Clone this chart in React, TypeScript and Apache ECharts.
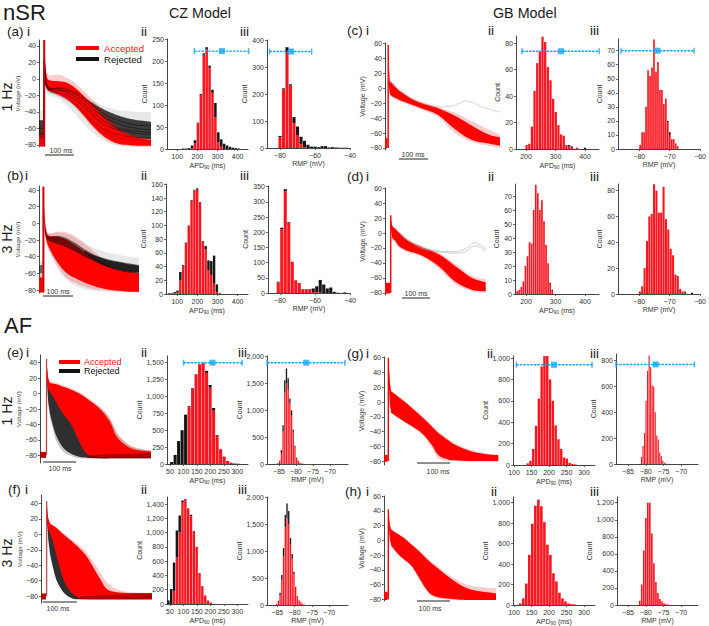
import React, { useEffect, useRef } from "react";
import * as echarts from "echarts";

// ---------- histogram values (count per bin) ----------
const a2Accepted = [0,0,0,1,13,58,123,215,228,185,128,72,15,5,0,0,0,0,0,0];
const a2Total = [1,1,2,8,20,60,125,218,232,190,135,105,38,22,12,8,5,3,2,1];
const a3Accepted = [40,218,355,232,92,48,15,3,0,0,0,0,0,0,0,0,0,0,0,0];
const a3Total = [45,222,375,237,115,80,42,27,12,5,5,3,7,7,2,3,2,1,1,1];
const b2Accepted = [0,0,1,2,20,40,74,100,136,151,152,133,76,65,35,28,15,3,0];
const b2Total = [1,1,3,5,32,42,75,100,137,152,154,134,77,70,49,48,56,14,1];
const b3Accepted = [35,210,335,230,103,42,33,12,12,11,3,2,1,0,0,0,0,0,0,0,0];
const b3Total = [37,215,342,233,103,42,33,13,13,13,15,22,43,28,15,18,4,1,0,2,0];
const c2Accepted = [3,4,17,44,65,74,85,81,62,52,38,28,18,11,10,3,2,1,0,1,0,0,0];
const c2Total = [3,4,17,44,65,74,85,81,62,52,38,28,18,11,10,3,3,2,0,1,0,0,1];
const c3Accepted = [3,12,12,30,56,52,58,78,55,62,42,42,32,36,19,10,7,7,4,2];
const c3Total = [3,12,12,30,56,52,58,78,55,62,42,42,32,36,20,12,7,7,4,2];
const d2Accepted = [2,3,5,9,20,27,37,36,60,78,72,60,67,52,35,22,7,2];
const d2Total = [2,3,5,9,20,27,37,36,60,78,72,60,67,52,35,22,8,3];
const d3Accepted = [2,6,20,41,60,62,85,80,63,63,83,58,50,35,30,15,14,4,2,2,0,0,0];
const d3Total = [2,6,20,41,60,62,85,80,63,63,83,58,50,35,30,15,14,4,2,2,0,0,1];
const e2Accepted = [0,0,0,0,0,840,1110,1325,1475,1490,1350,1130,790,420,215,110,45,20,10,5];
const e2Total = [30,135,340,500,730,855,1120,1330,1480,1500,1380,1170,830,430,220,110,45,20,10,5];
const e3Accepted = [15,50,200,600,1330,1500,1400,1130,900,600,320,115,58,25,10,5];
const e3Total = [20,60,260,720,1560,1780,1600,1220,1000,640,340,120,60,25,10,5];
const f2Accepted = [0,0,180,650,1000,1420,1470,1340,1230,1010,800,420,250,120,50,20];
const f2Total = [50,210,580,1030,1240,1450,1470,1340,1250,1020,800,430,250,120,50,20];
const f3Accepted = [15,60,180,470,900,1450,1620,1500,1130,860,580,320,165,90,50,20,8];
const f3Total = [20,80,230,560,1060,1680,1890,1750,1250,950,620,340,170,90,50,20,8];
const g2Values = [15,40,150,365,620,920,1020,1020,800,600,370,240,150,70,60,20,10,5];
const g3Values = [55,140,240,490,720,840,750,610,600,400,220,190,90,60,25,10,3];
const h2Values = [15,65,210,490,795,970,1030,965,810,590,490,310,230,120,65,35,15,8,5];
const h3Values = [50,240,640,1020,1200,1200,840,490,270,140,70,40,20,10,5];

// ---------- tick labels ----------
const apdTicksCZ = [100,200,300,400];
const rmpTicksCZ = [-80,-60,-40];
const apdTicksGB = [200,300,400];
const rmpTicksGB = [-80,-70,-60];
const apdTicksAfCZ = [50,100,150,200,250,300];
const rmpTicksAfCZ = [-85,-80,-75,-70];
const apdTicksAfGB = [100,150,200,250,300];
const rmpTicksAfGB = [-85,-80,-75,-70,-65];
const voltTicks40 = [-80,-60,-40,-20,0,20,40];
const voltTicks60 = [-80,-60,-40,-20,0,20,40,60];

// ---------- experimental range markers [low, mean, high, level] ----------
const a2Range = [185,322,455,223];
const a3Range = [-86,-73.7,-61.9,359];
const c2Range = [186.5,319,448,74];
const c3Range = [-86,-74,-62,70];
const e2Range = [100.6,208,318,1500];
const e3Range = [-88.5,-77,-65.6,1888];
const g2Range = [106.7,214,323,937];
const g3Range = [-88.4,-77.2,-66.3,771];

// ---------- action potential envelopes (mV at time nodes, ms) ----------
const upstrokeT = [0,0];
const tA = [-18,-2,0,2,5,10,20,50,80,110,140,170,200,230,260,290,320,368];
const aUp = [-82,47];
const aAccFaintLo = [-82,-82,30,20,-10,-15,-17,-21,-27,-36,-48,-60,-70,-77,-80,-81,-82,-82];
const aAccFaintHi = [-60,-60,47,36,18,8,4,5,1,-6,-16,-26,-37,-48,-58,-65,-69,-72];
const aAccLo = [-82,-82,25,15,-8,-13,-15,-19,-25,-34,-46,-58,-68,-75,-79,-80,-81,-81];
const aAccHi = [-68,-68,45,28,10,1,-2,-3,-5,-12,-22,-33,-45,-55,-63,-68,-71,-74];
const aRejFaintLo = [-82,-82,30,20,-12,-18,-20,-24,-33,-44,-56,-66,-74,-79,-81,-82,-82,-82];
const aRejFaintHi = [-38,-38,40,25,10,0,-4,-5,-9,-15,-21,-27,-32,-36,-38,-39,-40,-40];
const aRejLo = [-72,-72,25,10,-8,-12,-14,-17,-22,-30,-40,-50,-58,-65,-69,-71,-72,-73];
const aRejHi = [-50,-50,30,15,5,-4,-6,-7,-10,-16,-23,-30,-36,-41,-45,-48,-50,-52];
const aLine1 = [-70,-70,25,12,-4,-8,-11,-14,-15,-19,-27,-37,-45,-51,-55,-58,-60,-62];
const aLine2 = [-66,-66,25,12,-4,-9,-14,-17,-20,-26,-35,-45,-54,-59,-62,-64,-66,-67];
const aLine3 = [-60,-60,20,8,-6,-11,-13,-11,-13,-17,-24,-33,-41,-47,-51,-54,-56,-57];
const aLine4 = [-72,-72,25,12,-5,-10,-15,-19,-24,-31,-41,-52,-60,-65,-68,-70,-71,-72];
const aLine5 = [-68,-68,22,10,-5,-9,-12,-12,-17,-22,-31,-41,-50,-56,-60,-62,-63,-65];
const aLine6 = [-64,-64,22,10,-6,-12,-16,-20,-26,-34,-44,-55,-64,-69,-72,-73,-74,-75];

const tB = [-15,-2,0,2,5,10,20,50,80,110,140,170,200,230,260,290,326];
const bUp = [-83,44];
const bAccFaintLo = [-83,-83,25,10,-15,-23,-34,-52,-66,-72,-76,-79,-80,-81,-82,-82,-83];
const bAccFaintHi = [-60,-60,44,28,10,-5,-12,-10,-11,-16,-24,-33,-42,-48,-53,-55,-57];
const bAccLo = [-83,-83,20,8,-12,-20,-30,-48,-60,-66,-71,-75,-78,-80,-81,-82,-82];
const bAccHi = [-65,-65,40,22,3,-10,-15,-16,-20,-27,-34,-41,-47,-52,-56,-58,-60];
const bRejFaintLo = [-83,-83,25,10,-15,-22,-32,-55,-68,-75,-79,-81,-82,-82,-83,-83,-83];
const bRejFaintHi = [-45,-45,30,15,0,-8,-12,-11,-13,-18,-24,-29,-33,-36,-38,-40,-41];
const bRejLo = [-60,-60,20,5,-10,-18,-21,-25,-29,-34,-40,-45,-50,-54,-57,-59,-60];
const bRejHi = [-50,-50,25,10,-4,-12,-16,-15,-18,-24,-31,-37,-41,-44,-46,-48,-50];
const bCoreT = [140,170,200,230,260,290,326];
const bCoreLo = [-35,-43,-49,-53,-56,-58,-59];
const bCoreHi = [-33,-38,-42,-45,-47,-49,-51];

const tC = [-11,-2,0,1,3,5,8,15,40,80,115,172,230,287,345,385];
const cUp = [-80,58];
const cAccFaintLo = [-81,-81,40,30,5,-8,-11,-13,-18,-24,-29,-39,-60,-72,-77,-80];
const cAccFaintHi = [-66,-66,58,52,30,14,11,8,-2,-12,-18,-25,-33,-44,-55,-62];
const cAccLo = [-80,-80,35,25,3,-6,-9,-11,-16,-22,-27,-36,-55,-69,-74,-77];
const cAccHi = [-67,-67,56,48,26,10,8,6,-4,-14,-20,-27,-37,-50,-62,-66];
const cGrayT = [15,40,80,115,172,207,240,264,290,322,385];
const cGrayV = [4,-3,-14,-20,-25,-25,-21,-17,-19,-25,-32];

const tD = [-20,-2,0,1,3,5,8,15,30,60,108,166,224,282,331];
const dUp = [-80,24];
const dAccFaintLo = [-81,-81,5,5,0,-8,-10,-12,-20,-26,-32,-47,-68,-78,-80];
const dAccFaintHi = [-65,-65,24,22,18,12,9,7,2,-8,-17,-26,-41,-57,-62];
const dAccLo = [-81,-81,5,5,0,-6,-8,-10,-18,-24,-30,-44,-65,-76,-78];
const dAccHi = [-67,-67,22,18,14,10,8,6,0,-10,-19,-28,-44,-60,-66];
const dGrayT = [30,60,108,166,224,260,294,312,331];
const dGray1 = [0,-10,-20,-24,-25,-21,-13,-16,-21];
const dGray2 = [0,-10,-21,-25,-27,-25,-17,-19,-24];

const tE = [-20,-2,0,2,5,10,20,30,50,75,100,122,163,194,214,245,275,319];
const eUp = [-80,45];
const eAccFaintHi = [-75,-75,46,34,22,16,15,14,11,7,2,-4,-17,-32,-50,-64,-70,-74];
const eAccHi = [-76,-76,45,32,20,14,13,12,9,5,0,-6,-20,-37,-56,-68,-73,-75];
const eAccLo = [-83,-83,25,15,6,2,-4,-12,-26,-40,-62,-78,-83,-83,-83,-83,-83,-83];
const eRejFaintLo = [-84,-84,20,8,-14,-30,-48,-62,-75,-81,-84,-84,-84,-84,-84,-84,-84,-84];
const eRejFaintHi = [-76,-76,42,30,19,13,12,10,8,4,-2,-8,-18,-33,-51,-65,-71,-74];
const eRejLo = [-83,-83,20,10,-10,-25,-42,-55,-70,-78,-82,-83,-84,-84,-84,-84,-84,-84];
const eRejHi = [-76,-76,40,28,18,12,10,8,4,-10,-25,-50,-72,-76,-76,-76,-76,-76];
const eBaseT = [122,163,245,319];
const eBaseLo = [-84,-84,-84,-84];
const eBaseHi = [-81,-79,-78,-77];
const ePreT = [-20,-2];
const ePreLo = [-83,-83];
const ePreHi = [-76,-76];

const tF = [-17,-2,0,2,5,10,20,30,50,75,100,122,160,180,210,250,315];
const fUp = [-80,43];
const fAccFaintHi = [-77,-77,44,32,21,15,12,9,2,-7,-15,-25,-49,-62,-71,-75,-76];
const fAccHi = [-77,-77,43,30,20,14,11,8,0,-9,-19,-30,-58,-71,-75,-76,-76];
const fAccLo = [-84,-84,25,15,6,2,-12,-28,-58,-76,-83,-84,-84,-84,-84,-84,-84];
const fRejLo = [-84,-84,20,10,-8,-25,-45,-60,-75,-83,-84,-84,-84,-84,-84,-84,-84];
const fRejHi = [-77,-77,40,28,18,12,8,4,-4,-35,-65,-76,-78,-78,-78,-78,-78];
const fBaseT = [100,160,250,315];
const fBaseLo = [-84,-84,-84,-84];
const fBaseHi = [-81,-79,-78,-77];
const fPreT = [-17,-2];
const fPreLo = [-84,-84];
const fPreHi = [-77,-77];

const tG = [-13,-2,0,1,3,5,8,10,50,100,130,150,180,200,250,300,330];
const gUp = [-80,60];
const gAccFaintHi = [-71,-71,61,56,41,26,17,15,1,-18,-31,-40,-50,-56,-65,-70,-71];
const gAccFaintLo = [-81,-81,45,35,10,-5,-13,-16,-28,-44,-62,-77,-80,-80,-81,-81,-81];
const gAccHi = [-72,-72,60,55,40,25,16,14,0,-20,-33,-42,-52,-58,-67,-71,-72];
const gAccLo = [-81,-81,45,35,10,-5,-12,-15,-27,-42,-58,-72,-78,-79,-80,-80,-80];

const tH = [-13,-2,0,1,3,5,8,10,30,50,70,90,115,140,200,250,323];
const hUp = [-80,42];
const hAccFaintHi = [-68,-68,43,39,30,22,16,15,9,3,-5,-12,-23,-33,-52,-62,-65];
const hAccFaintLo = [-81,-81,30,25,10,0,-6,-9,-20,-28,-36,-51,-69,-78,-81,-81,-81];
const hAccHi = [-70,-70,42,38,28,20,15,14,8,2,-6,-14,-25,-35,-56,-67,-72];
const hAccLo = [-81,-81,30,25,10,0,-5,-8,-19,-27,-35,-49,-67,-76,-80,-81,-81];

// ---------- colours ----------
const RED = "#ff0000";
const BAR_RED = "#f7151f";
const BLUE = "#18a4fb";
const AXIS = "#444444";
const TXT = "#333333";
const FONT = "Liberation Sans, Arial, sans-serif";
const FAINT = 0.2;

const fmt = (v: number) => {
  const s = Math.abs(v).toLocaleString("en-US");
  return v < 0 ? "\u2212" + s : s;
};
const seq = (a: number, b: number, d: number) => {
  const r: number[] = [];
  for (let v = a; v <= b + 1e-9; v += d) r.push(v);
  return r;
};

const grids: any[] = [];
const xAxes: any[] = [];
const yAxes: any[] = [];
const series: any[] = [];
const graphics: any[] = [];

function addGrid(L: number, R: number, T: number, B: number, xa: any, ya: any) {
  const i = grids.length;
  grids.push({ left: L, top: T, width: R - L, height: B - T, containLabel: false });
  xAxes.push({ type: "value", gridIndex: i, scale: true, splitLine: { show: false }, ...xa });
  yAxes.push({ type: "value", gridIndex: i, scale: true, splitLine: { show: false }, ...ya });
  return i;
}

const line = { show: true, lineStyle: { color: AXIS, width: 1 } };

function valueAxis(ticks: number[], min: number, max: number, margin: number, extra: any = {}) {
  return {
    min,
    max,
    axisLine: { ...line, onZero: false },
    axisTick: { show: true, length: 2, lineStyle: { color: AXIS, width: 0.8 }, customValues: ticks },
    axisLabel: { show: true, fontSize: 7, color: TXT, margin, fontFamily: FONT, customValues: ticks, formatter: fmt },
    ...extra,
  };
}

function hist(
  box: number[],
  yTicks: number[],
  yRef: number[],
  xTicks: number[],
  xRef: number[],
  start: number,
  step: number,
  accepted: number[],
  total: number[],
  xName: "apd" | "rmp",
  yGap: number,
  range?: number[],
) {
  const [L, R, T, B] = box;
  const ppu = (xRef[3] - xRef[1]) / (xRef[2] - xRef[0]);
  const xMin = xRef[0] - (xRef[1] - L) / ppu;
  const xMax = xRef[0] + (R - xRef[1]) / ppu;
  const yMax = (yRef[0] * (B - T)) / (B - yRef[1]);
  const name = xName === "apd" ? "{a|APD}{s|90}{a| (ms)}" : "{a|RMP (mV)}";
  const i = addGrid(
    L, R, T, B,
    valueAxis(xTicks, xMin, xMax, 4, {
      name,
      nameLocation: "middle",
      nameGap: 12,
      nameTextStyle: {
        fontFamily: FONT,
        rich: {
          a: { fontSize: 7, color: TXT, fontFamily: FONT },
          s: { fontSize: 5, color: TXT, fontFamily: FONT, verticalAlign: "bottom", padding: [3, 0, 0, 0] },
        },
      },
    }),
    valueAxis(yTicks, 0, yMax, 3, {
      name: "Count",
      nameLocation: "middle",
      nameGap: yGap,
      nameTextStyle: { fontSize: 7, color: TXT, fontFamily: FONT },
    }),
  );
  const xs = accepted.map((_, k) => start + k * step);
  const w = Math.max(step * ppu - 0.4, 1);
  series.push({
    type: "bar", xAxisIndex: i, yAxisIndex: i, barWidth: w,
    itemStyle: { color: BAR_RED }, data: xs.map((x, k) => [x, accepted[k]]), silent: true,
  });
  // rejected cells sit on top of the accepted ones
  series.push({
    type: "custom", xAxisIndex: i, yAxisIndex: i, silent: true, z: 3,
    encode: { x: 0, y: [1, 2] },
    data: xs.map((x, k) => [x, accepted[k], total[k]]),
    renderItem: (_: any, api: any) => {
      const x = api.value(0);
      const a = api.value(1);
      const b = api.value(2);
      if (b <= a) return null;
      const p0 = api.coord([x, a]);
      const p1 = api.coord([x, b]);
      return {
        type: "rect",
        shape: { x: p0[0] - w / 2, y: p1[1], width: w, height: p0[1] - p1[1] },
        style: { fill: "#151515" },
      };
    },
  });
  if (range) {
    const [lo, mean, hi, lv] = range;
    series.push({
      type: "line", xAxisIndex: i, yAxisIndex: i, symbol: "none", clip: false, z: 5,
      lineStyle: { color: BLUE, width: 1.4, type: [2.5, 1] }, data: [[lo, lv], [hi, lv]],
    });
    series.push({
      type: "scatter", xAxisIndex: i, yAxisIndex: i, symbol: "rect", symbolSize: [1.5, 6], clip: false, z: 6,
      itemStyle: { color: BLUE }, data: [[lo, lv], [hi, lv]],
    });
    series.push({
      type: "scatter", xAxisIndex: i, yAxisIndex: i, symbol: "rect", symbolSize: 6, clip: false, z: 6,
      itemStyle: { color: BLUE }, data: [[mean, lv]],
    });
  }
}

// edge of an envelope in pixels; the slow part of the action potential is drawn as a spline
function edge(rows: number[][], col: number, api: any) {
  const p = rows.map((r) => api.coord([r[0], r[col]]));
  const out: number[][] = [];
  for (let k = 0; k < p.length; k++) {
    out.push(p[k]);
    if (k < p.length - 1 && rows[k][0] >= 8) {
      const a = p[Math.max(k - 1, 0)];
      const b = p[k];
      const c = p[k + 1];
      const d = p[Math.min(k + 2, p.length - 1)];
      for (let s = 1; s < 4; s++) {
        const u = s / 4;
        const f = (i: number) =>
          0.5 * (2 * b[i] + (c[i] - a[i]) * u + (2 * a[i] - 5 * b[i] + 4 * c[i] - d[i]) * u * u + (3 * b[i] - a[i] - 3 * c[i] + d[i]) * u * u * u);
        out.push([f(0), f(1)]);
      }
    }
  }
  return out;
}

function band(i: number, t: number[], lo: number[], hi: number[], color: string, opacity: number) {
  const rows = t.map((x, k) => [x, lo[k], hi[k]]);
  series.push({
    type: "custom", xAxisIndex: i, yAxisIndex: i, silent: true, z: 2,
    encode: { x: 0, y: [1, 2] },
    data: rows,
    renderItem: (params: any, api: any) => {
      if (params.dataIndex !== 0) return null;
      const pts = [...edge(rows, 1, api), ...edge(rows, 2, api).reverse()];
      return { type: "polygon", shape: { points: pts }, style: { fill: color, opacity } };
    },
  });
}

function trace(i: number, t: number[], v: number[], color: string, width: number, opacity: number, smooth = 0.3) {
  series.push({
    type: "line", xAxisIndex: i, yAxisIndex: i, symbol: "none", z: 3, silent: true, smooth,
    lineStyle: { color, width, opacity }, data: t.map((x, k) => [x, v[k]]),
  });
}

function ap(box: number[], xR: number[], yR: number[], ticks: number[], nameGap: number, nameSize: number) {
  const [L, R, T, B] = box;
  return addGrid(
    L, R, T, B,
    { min: xR[0], max: xR[1], show: false },
    valueAxis(ticks, yR[0], yR[1], 3, {
      name: "Voltage (mV)",
      nameLocation: "middle",
      nameGap,
      nameTextStyle: { fontSize: nameSize, color: "#444", fontFamily: FONT },
    }),
  );
}

function label(text: string, x: number, y: number, fontSize: number, extra: any = {}, fill = "#1a1a1a", align = "left") {
  graphics.push({
    type: "text", x, y, silent: true, ...extra,
    style: { text, fontSize, fill, fontFamily: FONT, align, verticalAlign: "middle" },
  });
}

function scaleBar(x1: number, x2: number, y: number, tx: number, ty: number) {
  graphics.push({ type: "line", silent: true, shape: { x1, y1: y, x2, y2: y }, style: { stroke: "#222", lineWidth: 1 } });
  label("100 ms", tx, ty, 7, {}, "#333", "center");
}

function legendBlock(x1: number, x2: number, tx: number, y1: number, y2: number, fs: number) {
  graphics.push({ type: "rect", silent: true, shape: { x: x1, y: y1 - 2, width: x2 - x1, height: 4 }, style: { fill: RED } });
  graphics.push({ type: "rect", silent: true, shape: { x: x1, y: y2 - 2, width: x2 - x1, height: 4 }, style: { fill: "#111" } });
  label("Accepted", tx, y1, fs, {}, "#ff1111");
  label("Rejected", tx, y2, fs, {}, "#111");
}

function build() {
  // ---- (a) ----
  let i = ap([39, 151, 40, 147], [-18, 368], [-82.5, 47], voltTicks40, 17, 6.2);
  band(i, tA, aRejFaintLo, aRejFaintHi, "#8a8a8a", FAINT);
  band(i, tA, aRejLo, aRejHi, "#111", 0.8);
  band(i, tA, aAccFaintLo, aAccFaintHi, RED, FAINT);
  band(i, tA, aAccLo, aAccHi, RED, 1);
  trace(i, tA, aLine1, "#000", 0.7, 0.7);
  trace(i, tA, aLine2, "#000", 0.7, 0.6);
  trace(i, tA, aLine3, "#000", 0.7, 0.7);
  trace(i, tA, aLine4, "#000", 0.7, 0.45);
  trace(i, tA, aLine5, "#000", 0.7, 0.6);
  trace(i, tA, aLine6, "#000", 0.5, 0.3);
  trace(i, upstrokeT, aUp, "#cc0000", 2, 1, 0);
  // ---- (b) ----
  i = ap([39, 139, 186, 293], [-15, 326], [-83.6, 44.8], voltTicks40, 17, 6.2);
  band(i, tB, bRejFaintLo, bRejFaintHi, "#8a8a8a", FAINT);
  band(i, tB, bAccFaintLo, bAccFaintHi, RED, FAINT);
  band(i, tB, bAccLo, bAccHi, RED, 1);
  band(i, tB, bRejLo, bRejHi, "#111", 0.6);
  band(i, bCoreT, bCoreLo, bCoreHi, "#111", 0.8);
  trace(i, upstrokeT, bUp, "#cc0000", 2, 1, 0);
  // ---- (c) ----
  i = ap([385, 500, 43, 150], [-11, 385], [-82.7, 60.4], voltTicks60, 15, 7);
  band(i, tC, cAccFaintLo, cAccFaintHi, RED, FAINT);
  band(i, tC, cAccLo, cAccHi, RED, 1);
  trace(i, cGrayT, cGrayV, "#aaa", 0.6, 0.8);
  trace(i, upstrokeT, cUp, RED, 1.4, 1, 0);
  // ---- (d) ----
  i = ap([385, 485.7, 188, 295], [-20, 331], [-83, 60.4], voltTicks60, 15, 7);
  band(i, tD, dAccFaintLo, dAccFaintHi, RED, FAINT);
  band(i, tD, dAccLo, dAccHi, RED, 1);
  trace(i, dGrayT, dGray1, "#999", 0.6, 0.8);
  trace(i, dGrayT, dGray2, "#999", 0.6, 0.8);
  trace(i, upstrokeT, dUp, RED, 1.4, 1, 0);
  // ---- (e) ----
  i = ap([40, 151, 355, 463], [-20, 319], [-90, 50], voltTicks40, 16, 6.2);
  band(i, tE, eRejFaintLo, eRejFaintHi, "#777", 0.4);
  band(i, tE, eRejLo, eRejHi, "#2f2f2f", 1);
  band(i, tE, eAccLo, eAccFaintHi, RED, FAINT);
  band(i, tE, eAccLo, eAccHi, RED, 1);
  band(i, eBaseT, eBaseLo, eBaseHi, "#7a0000", 0.6);
  band(i, ePreT, ePreLo, ePreHi, "#a00000", 0.8);
  trace(i, upstrokeT, eUp, "#c04040", 1.2, 1, 0);
  // ---- (f) ----
  i = ap([41, 152, 495, 603], [-17, 315], [-89, 51], voltTicks40, 17, 6.2);
  band(i, tF, fRejLo, fRejHi, "#2f2f2f", 1);
  band(i, tF, fAccLo, fAccFaintHi, RED, FAINT);
  band(i, tF, fAccLo, fAccHi, RED, 1);
  band(i, fBaseT, fBaseLo, fBaseHi, "#7a0000", 0.6);
  band(i, fPreT, fPreLo, fPreHi, "#a00000", 0.8);
  trace(i, upstrokeT, fUp, "#c04040", 1.2, 1, 0);
  // ---- (g) ----
  i = ap([384, 498.3, 357, 465], [-13, 330], [-85.4, 61], voltTicks60, 17, 7);
  band(i, tG, gAccFaintLo, gAccFaintHi, RED, FAINT);
  band(i, tG, gAccLo, gAccHi, RED, 1);
  trace(i, upstrokeT, gUp, RED, 1.4, 1, 0);
  // ---- (h) ----
  i = ap([384, 496, 496, 601], [-13, 323], [-82.3, 60], voltTicks60, 17, 7);
  band(i, tH, hAccFaintLo, hAccFaintHi, RED, FAINT);
  band(i, tH, hAccLo, hAccHi, RED, 1);
  trace(i, upstrokeT, hUp, RED, 1.4, 1, 0);

  // ---- histograms ----
  const apdA = [100, 177.3, 400, 237.6];
  const rmpA = [-80, 280, -40, 350];
  const apdC = [200, 526, 400, 585];
  const rmpC = [-80, 640, -60, 703];
  const apdE = [50, 170, 300, 237.3];
  const rmpE = [-85, 279, -70, 330];
  const rmpF = [-85, 277.3, -70, 329.3];
  const apdG = [100, 514, 300, 584];
  const rmpG = [-85, 628, -65, 699];

  hist([167, 248, 39, 149], seq(0, 250, 50), [250, 39.3], apdTicksCZ, apdA, 130, 14.5, a2Accepted, a2Total, "apd", 13, a2Range);
  hist([267, 350, 40, 148], seq(0, 400, 100), [400, 40.5], rmpTicksCZ, rmpA, -80, 2, a3Accepted, a3Total, "rmp", 13, a3Range);
  hist([166, 248, 184, 294], seq(0, 160, 20), [160, 184.3], apdTicksCZ, apdA, 59, 14, b2Accepted, b2Total, "apd", 12, undefined);
  hist([268, 350, 186, 293], seq(0, 350, 50), [350, 186.7], rmpTicksCZ, rmpA, -81, 2, b3Accepted, b3Total, "rmp", 14, undefined);
  hist([516, 599, 36, 149], seq(0, 80, 20), [80, 43.3], apdTicksGB, apdC, 202, 9, c2Accepted, c2Total, "apd", 12, c2Range);
  hist([618, 703, 39, 149], seq(0, 70, 10), [70, 50.7], rmpTicksGB, rmpC, -79.7, 0.65, c3Accepted, c3Total, "rmp", 10, c3Range);
  hist([515, 599, 184, 294], seq(0, 70, 10), [70, 196], apdTicksGB, apdC, 170, 7, d2Accepted, d2Total, "apd", 12, undefined);
  hist([618, 703, 184, 294], seq(0, 80, 20), [80, 190.7], rmpTicksGB, rmpC, -79.8, 0.78, d3Accepted, d3Total, "rmp", 10, undefined);
  hist([167, 248, 356, 464], seq(0, 1500, 250), [1500, 362.7], apdTicksAfCZ, apdE, 56, 13, e2Accepted, e2Total, "apd", 18, e2Range);
  hist([267, 348, 356, 464], seq(0, 2000, 500), [2000, 356.7], rmpTicksAfCZ, rmpE, -85.3, 0.5, e3Accepted, e3Total, "rmp", 19, e3Range);
  hist([167, 248, 497, 604], seq(0, 1400, 200), [1400, 504], apdTicksAfCZ, apdE, 44, 10.5, f2Accepted, f2Total, "apd", 15, undefined);
  hist([267, 348, 497, 605], seq(0, 2000, 500), [2000, 497.7], rmpTicksAfCZ, rmpF, -85.2, 0.5, f3Accepted, f3Total, "rmp", 19, undefined);
  hist([513, 595, 356, 465], seq(0, 1000, 200), [1000, 358], apdTicksAfGB, apdG, 139, 8, g2Values, g2Values, "apd", 16, g2Range);
  hist([616, 698, 354, 464], seq(0, 800, 200), [800, 360.7], rmpTicksAfGB, rmpG, -81.2, 0.43, g3Values, g3Values, "rmp", 16, g3Range);
  hist([513, 595, 497, 605], seq(0, 1000, 200), [1000, 502.7], apdTicksAfGB, apdG, 118, 8.6, h2Values, h2Values, "apd", 15, undefined);
  hist([617, 698, 497, 605], seq(0, 1200, 200), [1200, 502.7], rmpTicksAfGB, rmpG, -81.7, 0.57, h3Values, h3Values, "rmp", 15, undefined);

  // ---- headings ----
  label("nSR", 3, 12, 22);
  label("AF", 4, 325, 22);
  label("CZ Model", 169, 13, 14.3);
  label("GB Model", 493, 13, 14.3);
  const rot = { rotation: Math.PI / 2 };
  label("1 Hz", 7, 97, 14, rot, "#1a1a1a", "center");
  label("3 Hz", 7, 239, 14, rot, "#1a1a1a", "center");
  label("1 Hz", 7, 411, 14, rot, "#1a1a1a", "center");
  label("3 Hz", 7, 553, 14, rot, "#1a1a1a", "center");

  const rows: [string, number, number, number, number, number][] = [
    ["(a)", 7, 31, 27, 141, 240],
    ["(b)", 7, 175, 25, 141, 240],
    ["(c)", 347, 30, 366, 488, 590],
    ["(d)", 347, 176, 366, 488, 590],
    ["(e)", 7, 352, 26, 141, 238],
    ["(f)", 8, 489, 25, 141, 238],
    ["(g)", 347, 353, 366, 487, 590],
    ["(h)", 345, 491, 366, 491, 590],
  ];
  rows.forEach(([t, x, y, a, b, c]) => {
    label(t, x, y, 13.5);
    label("i", a, y, 13.5);
    label("ii", b, y, 13.5);
    label("iii", c, y, 13.5);
  });

  // ---- legends and scale bars ----
  legendBlock(76, 99, 104, 48, 59, 9.6);
  legendBlock(59, 80, 84, 362, 371, 9);
  scaleBar(45, 74, 155, 61, 150);
  scaleBar(43, 73, 296, 58, 291);
  scaleBar(399, 428, 159, 413, 154);
  scaleBar(402, 430, 298, 416, 293);
  scaleBar(43, 76, 462, 60, 468);
  scaleBar(43, 77, 602, 58, 608);
  scaleBar(417, 450, 463, 438, 471);
  scaleBar(417, 450, 601, 430, 608);
}

export default function App() {
  const ref = useRef<HTMLDivElement>(null);
  useEffect(() => {
    grids.length = xAxes.length = yAxes.length = series.length = graphics.length = 0;
    build();
    const chart = echarts.init(ref.current!, undefined, { renderer: "svg" });
    chart.setOption({
      animation: false,
      backgroundColor: "#ffffff",
      textStyle: { fontFamily: FONT },
      grid: grids,
      xAxis: xAxes,
      yAxis: yAxes,
      series,
      graphic: { elements: graphics },
    });
    return () => chart.dispose();
  }, []);
  return <div ref={ref} style={{ position: "absolute", left: 0, top: 0, width: 709, height: 626 }} />;
}
